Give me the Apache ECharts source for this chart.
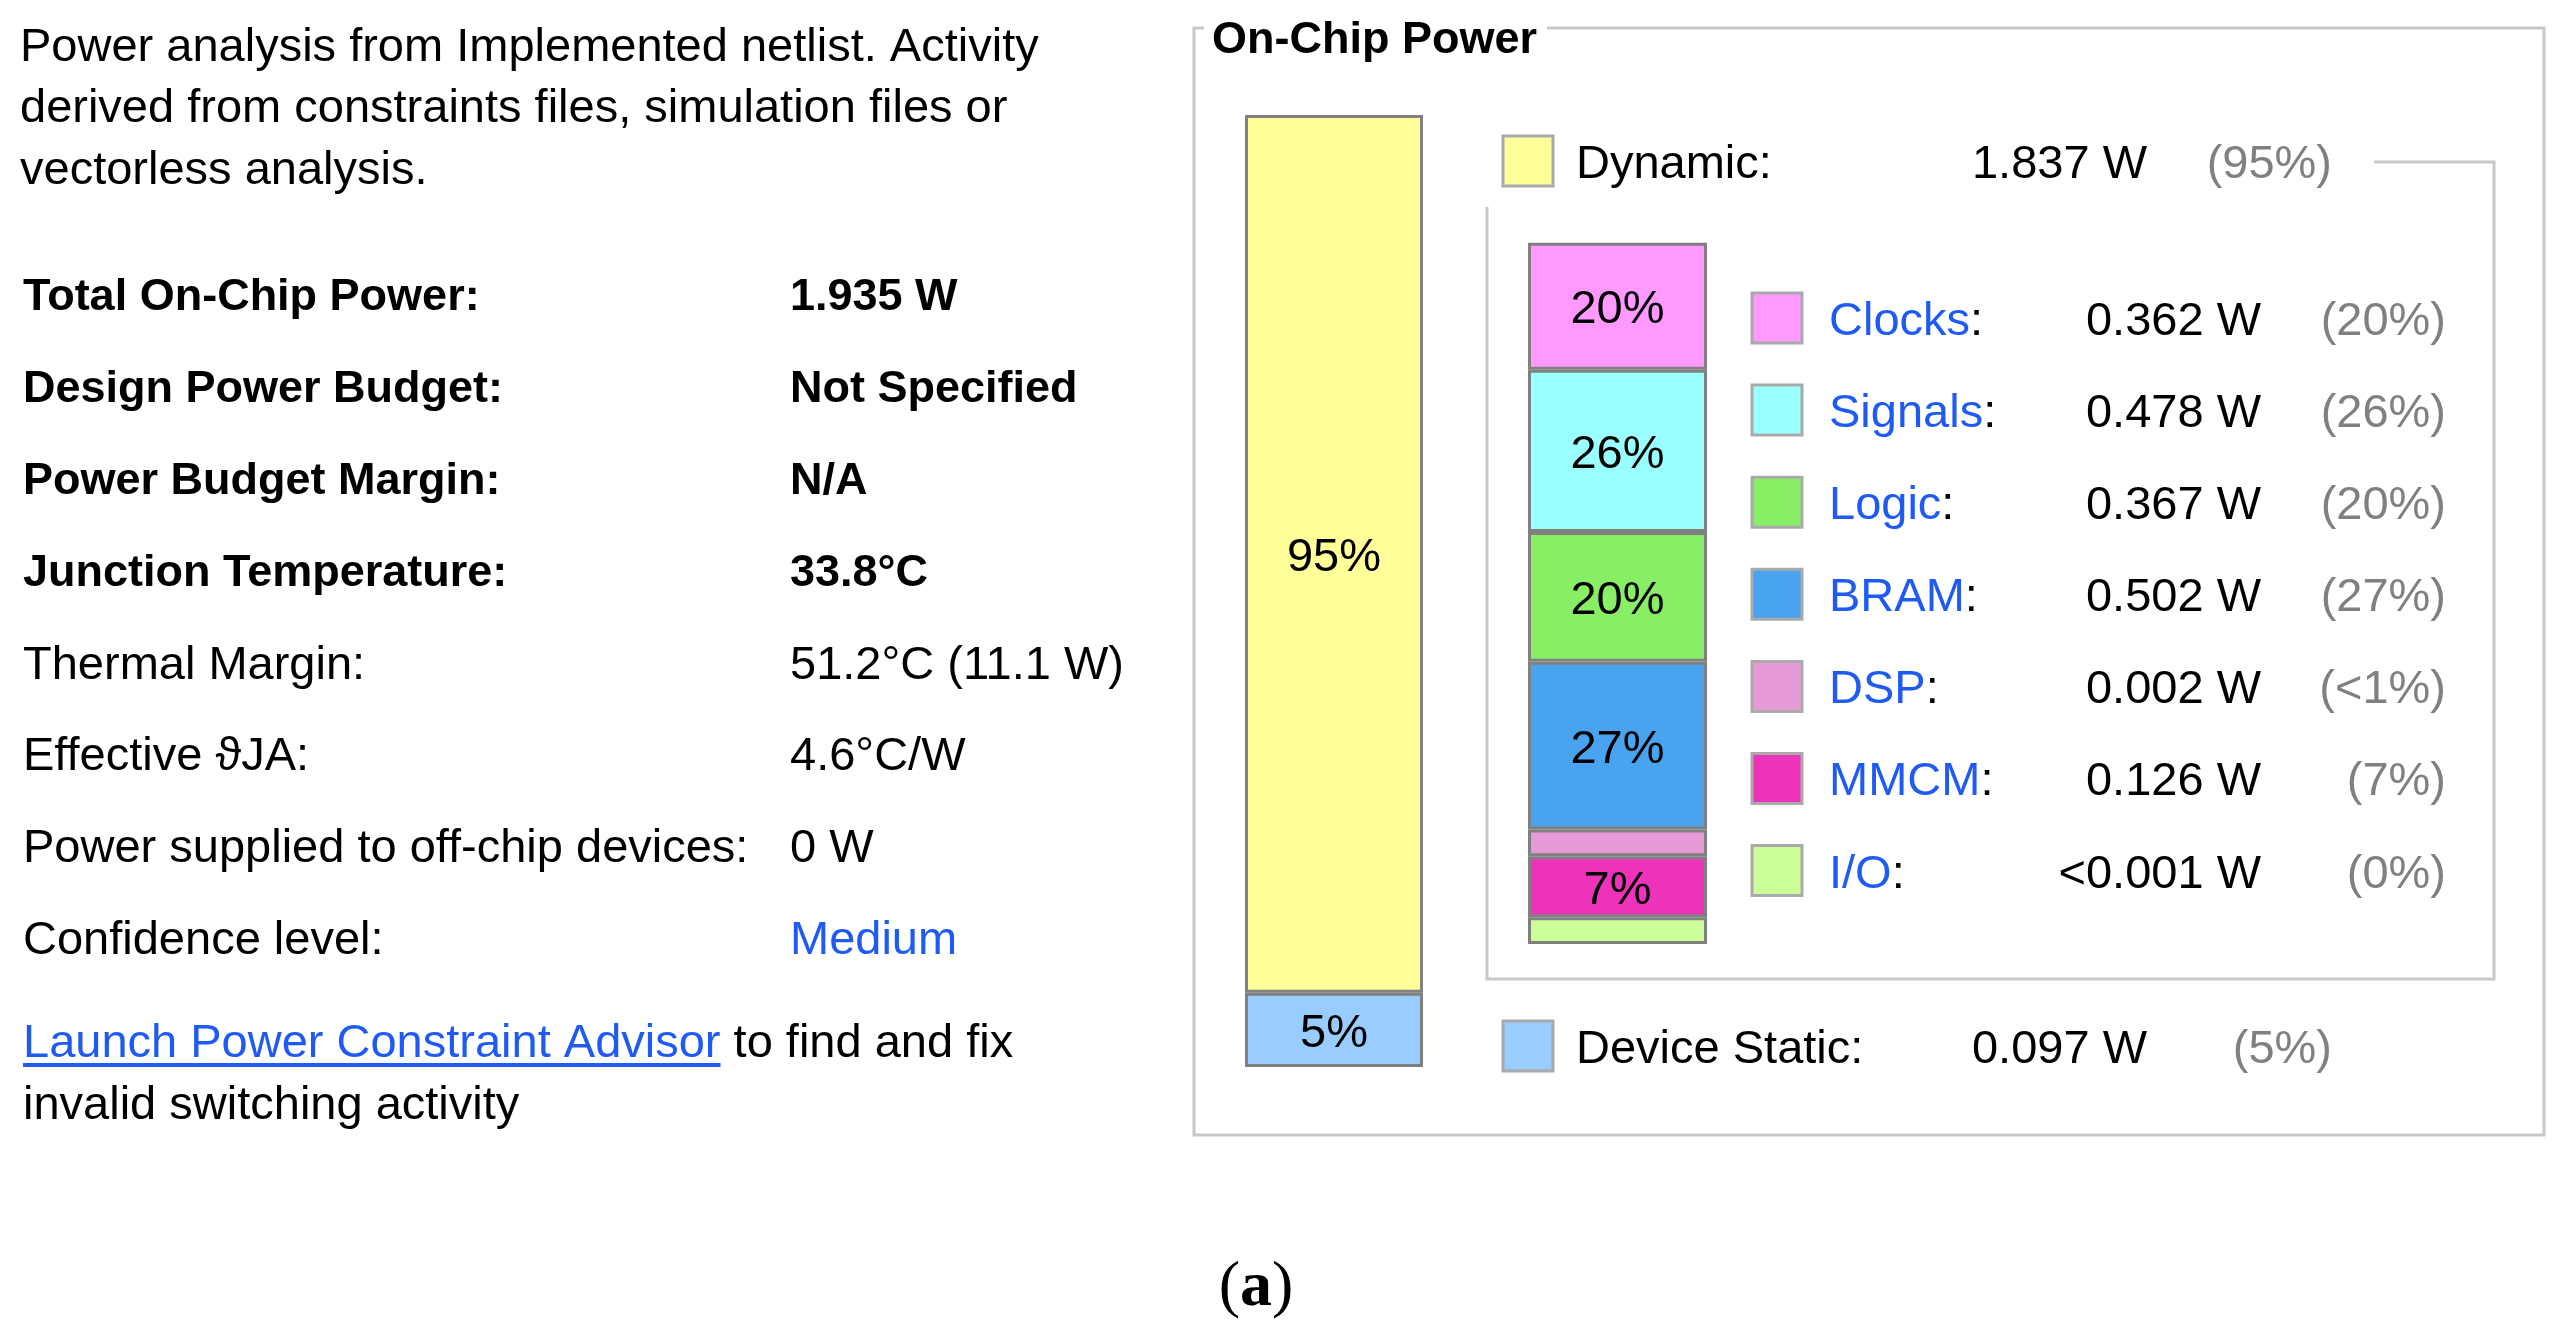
<!DOCTYPE html>
<html>
<head>
<meta charset="utf-8">
<title>On-Chip Power</title>
<script src="https://cdn.jsdelivr.net/npm/echarts@6/dist/echarts.min.js"></script>
<style>
  html, body { margin: 0; padding: 0; background: #fff; }
  #main { width: 2564px; height: 1337px; }
</style>
</head>
<body>
<div id="main"></div>
<script>
// ---- data ----
var introLines = [
  'Power analysis from Implemented netlist. Activity',
  'derived from constraints files, simulation files or',
  'vectorless analysis.'
];
var infoLabels = [
  'Total On-Chip Power:', 'Design Power Budget:', 'Power Budget Margin:',
  'Junction Temperature:', 'Thermal Margin:', 'Effective \u03D1JA:',
  'Power supplied to off-chip devices:', 'Confidence level:'
];
var infoValues = ['1.935 W', 'Not Specified', 'N/A', '33.8\u00B0C',
  '51.2\u00B0C (11.1 W)', '4.6\u00B0C/W', '0 W', 'Medium'];

// top level: dynamic vs static
var mainParts = ['Dynamic', 'Device Static'];
var mainWatts = ['1.837 W', '0.097 W'];
var mainPct = ['(95%)', '(5%)'];
var mainBarLabels = ['95%', '5%'];
var mainBarShare = [92.2, 7.8];   // segment heights as drawn (small parts get a minimum height)

// dynamic breakdown
var dynParts = ['Clocks', 'Signals', 'Logic', 'BRAM', 'DSP', 'MMCM', 'I/O'];
var dynWatts = ['0.362 W', '0.478 W', '0.367 W', '0.502 W', '0.002 W', '0.126 W', '<0.001 W'];
var dynPct = ['(20%)', '(26%)', '(20%)', '(27%)', '(<1%)', '(7%)', '(0%)'];
var dynBarLabels = ['20%', '26%', '20%', '27%', '', '7%', ''];
var dynBarShare = [18.1, 23.1, 18.5, 23.9, 3.8, 8.7, 3.8];

// colours
var mainColors = ['#FFFF99', '#99CCFF'];
var dynColors = ['#FF99FF', '#99FFFF', '#88EE66', '#4AA3EE', '#E69AD8', '#EE33BB', '#CCFF99'];

var FONT = '"Liberation Sans", Arial, sans-serif';
var FS = 47;      // regular text
var FS_B = 45;    // bold text
var DY = 4;       // small nudge so text sits like the screenshot
var LINK = '#1f5af3';
var GREY = '#808080';
var BOXLINE = '#c8c8c8';

function txt(x, y, text, o) {
  o = o || {};
  var bold = o.weight === 'bold';
  return {
    type: 'text', x: x, y: y + DY, silent: true,
    style: {
      text: text,
      fill: o.fill || '#000',
      fontSize: o.size || (bold ? FS_B : FS),
      fontFamily: o.family || FONT,
      fontWeight: o.weight || 'normal',
      align: o.align || 'left', textAlign: o.align || 'left',
      verticalAlign: 'middle', textVerticalAlign: 'middle',
      rich: o.rich
    }
  };
}

function measure(text) {
  var c = document.createElement('canvas').getContext('2d');
  c.font = 'normal ' + FS + 'px ' + FONT;
  return c.measureText(text).width;
}

var g = [];

// left description
introLines.forEach(function (s, i) {
  g.push(txt(20, 44 + i * 61.5, s));
});
infoLabels.forEach(function (s, i) {
  var y = 294 + i * 91.9;
  var bold = i < 4 ? 'bold' : 'normal';
  g.push(txt(23, y, s, { weight: bold }));
  g.push(txt(790, y, infoValues[i], { weight: bold, fill: i === 7 ? LINK : '#000' }));
});
var linkText = 'Launch Power Constraint Advisor';
g.push(txt(23, 1040, '{l|' + linkText + '}{n| to find and fix}', {
  rich: {
    l: { fill: LINK, fontSize: FS, fontFamily: FONT },
    n: { fill: '#000', fontSize: FS, fontFamily: FONT }
  }
}));
g.push({
  type: 'line', silent: true,
  shape: { x1: 23, y1: 1065, x2: 23 + measure(linkText), y2: 1065 },
  style: { stroke: LINK, lineWidth: 4 }
});
g.push(txt(23, 1102, 'invalid switching activity'));

// panel frames
g.push({
  type: 'polyline', silent: true,
  shape: { points: [[1547, 28], [2544, 28], [2544, 1135], [1194, 1135], [1194, 28], [1204, 28]] },
  style: { stroke: BOXLINE, lineWidth: 3, fill: null }
});
g.push(txt(1212, 37, 'On-Chip Power', { weight: 'bold' }));
g.push({
  type: 'polyline', silent: true,
  shape: { points: [[2374, 162], [2494, 162], [2494, 979], [1487, 979], [1487, 207]] },
  style: { stroke: BOXLINE, lineWidth: 3, fill: null }
});

// legend rows
function swatch(x, y, color) {
  return {
    type: 'rect', silent: true,
    shape: { x: x - 25, y: y - 25, width: 50, height: 50 },
    style: { fill: color, stroke: '#aaaaaa', lineWidth: 3 }
  };
}
var mainRowY = [161, 1046];
mainParts.forEach(function (name, i) {
  var y = mainRowY[i];
  g.push(swatch(1528, y, mainColors[i]));
  g.push(txt(1576, y, name + ':'));
  g.push(txt(2147, y, mainWatts[i], { align: 'right' }));
  g.push(txt(2332, y, mainPct[i], { align: 'right', fill: GREY }));
});
dynParts.forEach(function (name, i) {
  var y = 318 + i * 92.1;
  g.push(swatch(1777, y, dynColors[i]));
  g.push(txt(1829, y, '{a|' + name + '}{b|:}', {
    rich: {
      a: { fill: LINK, fontSize: FS, fontFamily: FONT },
      b: { fill: '#000', fontSize: FS, fontFamily: FONT }
    }
  }));
  g.push(txt(2261, y, dynWatts[i], { align: 'right' }));
  g.push(txt(2446, y, dynPct[i], { align: 'right', fill: GREY }));
});

// caption
g.push(txt(1256, 1284, '{p|(}{a|a}{p|)}', {
  rich: {
    p: { fontSize: 64, fontFamily: '"Liberation Serif", serif', fill: '#000' },
    a: { fontSize: 64, fontFamily: '"Liberation Serif", serif', fontWeight: 'bold', fill: '#000' }
  },
  align: 'center'
}));

// stacked bars (series listed bottom-up)
function stackSeries(names, shares, labels, colors, axis, stack) {
  var out = [];
  for (var i = names.length - 1; i >= 0; i--) {
    out.push({
      name: names[i], type: 'bar', stack: stack,
      xAxisIndex: axis, yAxisIndex: axis,
      barWidth: '100%',
      data: [shares[i]],
      itemStyle: { color: colors[i], borderColor: '#808080', borderWidth: 3 },
      label: {
        show: labels[i] !== '', position: 'inside', formatter: labels[i],
        offset: [0, DY],
        color: '#000', fontSize: FS, fontFamily: FONT
      },
      silent: true
    });
  }
  return out;
}

var chart = echarts.init(document.getElementById('main'), null, { renderer: 'canvas' });
chart.setOption({
  animation: false,
  grid: [
    { left: 1245, top: 115, width: 178, height: 952 },
    { left: 1528, top: 242, width: 179, height: 702 }
  ],
  xAxis: [
    { gridIndex: 0, type: 'category', data: ['total'], show: false },
    { gridIndex: 1, type: 'category', data: ['dynamic'], show: false }
  ],
  yAxis: [
    { gridIndex: 0, type: 'value', min: 0, max: 100, show: false },
    { gridIndex: 1, type: 'value', min: 0, max: 100, show: false }
  ],
  series: stackSeries(mainParts, mainBarShare, mainBarLabels, mainColors, 0, 'main')
    .concat(stackSeries(dynParts, dynBarShare, dynBarLabels, dynColors, 1, 'dyn')),
  graphic: { elements: g }
});
</script>
</body>
</html>
